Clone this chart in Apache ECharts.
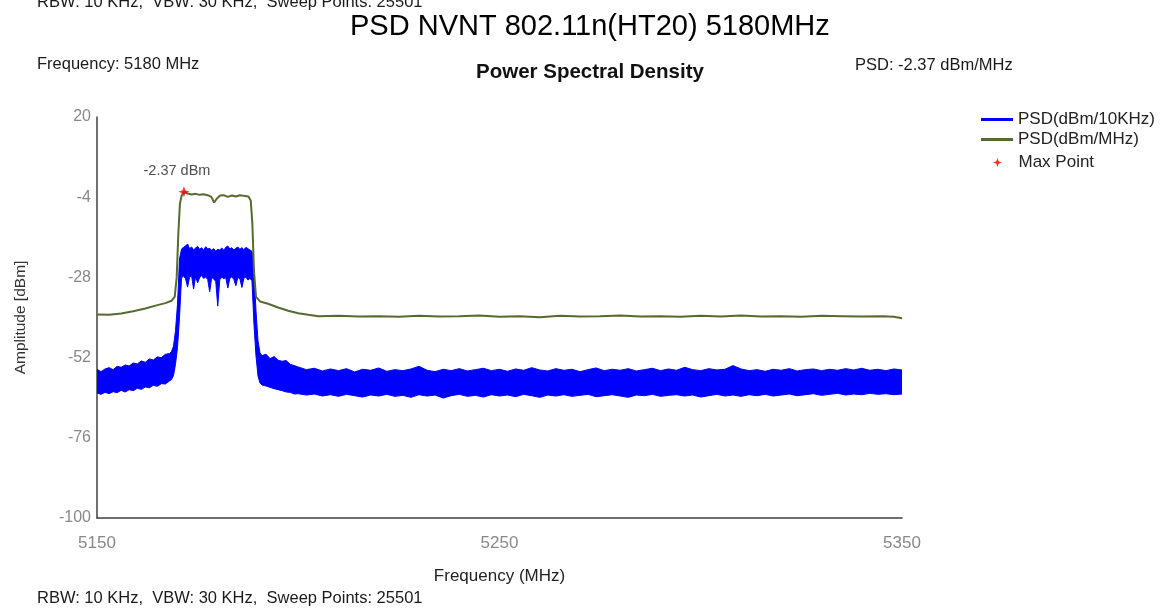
<!DOCTYPE html>
<html>
<head>
<meta charset="utf-8">
<title>PSD NVNT 802.11n(HT20) 5180MHz</title>
<script src="https://cdn.jsdelivr.net/npm/echarts@6/dist/echarts.min.js"></script>
<style>
  html, body { margin: 0; padding: 0; background: #fff; }
  #chart { width: 1169px; height: 608px; }
</style>
</head>
<body>
<div id="chart"></div>
<script>
// axis ticks
const xTicks = [5150, 5250, 5350]
const yTicks = [-100, -76, -52, -28, -4, 20]

// PSD(dBm/10KHz): upper / lower edge of the noisy trace
const blueFreq = [
  5150, 5151, 5152, 5153, 5154, 5155, 5156, 5157, 5158, 5159,
  5160, 5161, 5162, 5163, 5164, 5165, 5166, 5167, 5168,
  5168.5, 5169, 5169.5, 5170, 5170.5,
  5171, 5171.5, 5172, 5172.5, 5173, 5173.5, 5174, 5174.5, 5175, 5175.5,
  5176, 5176.5, 5177, 5177.5, 5178, 5178.5, 5179, 5179.5, 5180, 5180.5,
  5181, 5181.5, 5182, 5182.5, 5183, 5183.5, 5184, 5184.5, 5185, 5185.5,
  5186, 5186.5, 5187, 5187.5, 5188, 5188.5,
  5189, 5189.5, 5190, 5190.5,
  5191, 5192, 5193, 5194, 5195, 5196, 5197, 5198, 5199,
  5200, 5202, 5204, 5206, 5208, 5210, 5212, 5214, 5216, 5218,
  5220, 5222, 5224, 5226, 5228, 5230, 5232, 5234, 5236, 5238,
  5240, 5242, 5244, 5246, 5248, 5250, 5252, 5254, 5256, 5258,
  5260, 5262, 5264, 5266, 5268, 5270, 5272, 5274, 5276, 5278,
  5280, 5282, 5284, 5286, 5288, 5290, 5292, 5294, 5296, 5298,
  5300, 5302, 5304, 5306, 5308, 5310, 5312, 5314, 5316, 5318,
  5320, 5322, 5324, 5326, 5328, 5330, 5332, 5334, 5336, 5338,
  5340, 5342, 5344, 5346, 5348, 5350
]
const blueTop = [
  -55.5, -56.2, -55.4, -55.0, -55.6, -54.6, -54.9, -54.2, -54.5, -53.6,
  -53.9, -53.0, -53.4, -52.4, -52.7, -51.8, -52.0, -51.0, -50.8,
  -50.2, -48.6, -44.0, -36.0, -22.5,
  -19.5, -19.0, -18.6, -18.0, -19.4, -18.9, -19.8, -19.2, -18.7, -19.6,
  -19.1, -19.9, -18.8, -19.5, -19.3, -19.9, -19.4, -20.1, -19.6, -19.8,
  -19.2, -19.9, -19.0, -18.6, -19.5, -19.1, -19.8, -19.3, -18.9, -19.6,
  -19.1, -19.7, -19.0, -19.4, -19.8, -20.2,
  -26.0, -38.0, -47.0, -50.6,
  -51.4, -51.0, -52.3, -51.7, -52.8, -53.1, -52.9, -54.0, -54.4,
  -54.8, -55.6, -55.2, -56.0, -55.4, -55.9, -55.3, -56.3, -55.5, -55.8,
  -55.1, -56.1, -55.6, -55.9, -55.4, -54.6, -55.8, -56.2, -55.5, -55.9,
  -55.3, -56.0, -55.6, -55.2, -55.9, -55.5, -56.1, -55.4, -55.8, -55.0,
  -55.7, -56.0, -55.3, -55.8, -55.5, -56.2, -55.6, -55.1, -55.9, -55.5,
  -55.8, -55.3, -56.0, -55.6, -55.2, -55.9, -55.4, -55.8, -54.9, -55.6,
  -55.9, -55.3, -55.7, -55.5, -54.4, -55.4, -55.9, -55.6, -56.1, -55.5,
  -55.8, -55.3, -56.0, -55.6, -55.4, -55.9, -55.5, -55.8, -55.3, -55.7,
  -55.2, -55.8, -55.5, -55.9, -55.4, -55.7
]
const blueBottom = [
  -62.6, -63.0, -62.4, -62.8, -62.2, -62.5, -61.8, -62.3, -61.6, -61.9,
  -61.2, -61.5, -60.8, -61.0, -60.3, -60.6, -59.8, -59.9, -59.0,
  -58.6, -57.4, -54.0, -49.0, -40.0,
  -28.2, -27.6, -28.4, -30.9, -28.0, -27.5, -31.5, -27.8, -29.6, -28.1,
  -27.4, -28.3, -27.9, -28.6, -32.3, -28.0, -28.5, -29.2, -36.6, -28.7,
  -27.9, -28.4, -28.1, -31.2, -28.3, -27.8, -28.6, -30.5, -28.0, -28.4,
  -31.0, -28.2, -27.9, -28.8, -28.3, -29.0,
  -42.0, -51.5, -57.5, -59.6,
  -60.2, -60.5, -60.9, -61.3, -61.6, -61.9, -62.3, -62.4, -62.9,
  -62.8, -63.2, -62.9, -63.5, -63.1, -63.6, -63.0, -63.4, -63.8, -63.2,
  -63.5, -63.0, -63.6, -63.3, -63.9, -63.1, -63.5, -63.2, -64.1, -63.4,
  -63.0, -63.6, -63.3, -63.8, -63.1, -63.5, -63.2, -63.7, -63.0, -63.4,
  -63.9, -63.2, -63.5, -63.1, -63.6, -63.3, -63.0, -63.7, -63.4, -63.1,
  -63.5, -63.9, -63.2, -63.4, -63.0, -63.6, -63.3, -63.1, -63.5, -63.2,
  -63.8, -63.4, -63.0, -63.5, -63.2, -63.6, -63.1, -63.4, -63.0, -63.5,
  -63.2, -62.9, -63.4, -63.1, -62.8, -63.3, -63.0, -62.7, -63.2, -62.9,
  -63.1, -62.7, -63.0, -62.8, -63.1, -62.9
]

// PSD(dBm/MHz)
const greenFreq = [
  5150, 5153, 5156, 5159, 5162, 5165, 5167, 5168.5, 5169.3, 5169.8,
  5170.2, 5170.6, 5171, 5171.6, 5172.5, 5173.5, 5174.5, 5175.5, 5176.5, 5177.5,
  5178.4, 5179.1, 5179.8, 5180.6, 5181.5, 5182.5, 5183.5, 5184.5, 5185.5, 5186.5,
  5187.6, 5188.2, 5188.6, 5189, 5189.5, 5190.5, 5192.5, 5195, 5197.5, 5200,
  5202.5, 5205, 5210, 5215, 5220, 5225, 5230, 5235, 5240, 5245,
  5250, 5255, 5260, 5265, 5270, 5275, 5280, 5285, 5290, 5295,
  5300, 5305, 5310, 5315, 5320, 5325, 5330, 5335, 5340, 5345,
  5348, 5350
]
const greenPsd = [
  -39.1, -39.2, -38.8, -38.1, -37.3, -36.3, -35.7, -35.0, -33.8, -28.0,
  -15.0, -6.0, -3.6, -2.37, -2.9, -3.2, -3.0, -3.3, -3.1, -3.4,
  -3.9, -5.6, -4.4, -3.5, -3.4, -3.9, -3.5, -3.8, -3.4, -3.6,
  -3.8, -5.0, -12.0, -26.0, -33.8, -35.2, -35.9, -37.0, -38.0, -38.7,
  -39.2, -39.6, -39.5, -39.7, -39.6, -39.8, -39.5, -39.7, -39.6, -39.4,
  -39.8, -39.6, -39.9, -39.5, -39.7, -39.6, -39.4, -39.7, -39.6, -39.8,
  -39.5, -39.7, -39.4, -39.7, -39.6, -39.8, -39.5, -39.6, -39.7, -39.6,
  -39.8, -40.2
]

const maxPoint = [5171.6, -2.37]

const BLUE = 'PSD(dBm/10KHz)'
const GREEN = 'PSD(dBm/MHz)'
const MAXP = 'Max Point'
const FONT = "'Liberation Sans', Arial, sans-serif"
const STAR = 'path://M0,-10 L2.6,-2.6 L10,0 L2.6,2.6 L0,10 L-2.6,2.6 L-10,0 L-2.6,-2.6 Z'

// axes are shifted so ticks start on a multiple of the interval
const xBase = xTicks[0]
const yBase = yTicks[0]
const px = f => f - xBase
const py = v => v - yBase

const bandData = blueFreq.map((f, i) => [px(f), py(blueTop[i]), py(blueBottom[i])])

// one filled polygon between the upper and lower edge of the 10 KHz trace
function renderBand(params, api) {
  if (params.dataIndex !== 0) return
  const upper = bandData.map(d => api.coord([d[0], d[1]]))
  const lower = bandData.map(d => api.coord([d[0], d[2]])).reverse()
  return {
    type: 'polygon',
    shape: { points: upper.concat(lower) },
    style: { fill: '#0000ff', stroke: '#0000ff', lineWidth: 1 }
  }
}

const chart = echarts.init(document.getElementById('chart'))

const small = { fontFamily: FONT, fontSize: 16.5, fill: '#1a1a1a' }

chart.setOption({
  animation: false,
  backgroundColor: '#fff',
  title: [{
    text: 'PSD NVNT 802.11n(HT20) 5180MHz',
    left: 350,
    top: 12,
    padding: 0,
    textStyle: { fontFamily: FONT, fontSize: 29, fontWeight: 'normal', color: '#000' }
  }, {
    text: 'Power Spectral Density',
    left: 476,
    top: 62,
    padding: 0,
    textStyle: { fontFamily: FONT, fontSize: 20.5, fontWeight: 'bold', color: '#111' }
  }],
  graphic: [
    { type: 'text', x: 37, y: 2, style: Object.assign({ text: 'RBW: 10 KHz,  VBW: 30 KHz,  Sweep Points: 25501', verticalAlign: 'middle' }, small) },
    { type: 'text', x: 37, y: 64, style: Object.assign({ text: 'Frequency: 5180 MHz', verticalAlign: 'middle' }, small) },
    { type: 'text', x: 855, y: 65, style: Object.assign({ text: 'PSD: ' + maxPoint[1] + ' dBm/MHz', verticalAlign: 'middle' }, small) },
    { type: 'text', x: 37, y: 598, style: Object.assign({ text: 'RBW: 10 KHz,  VBW: 30 KHz,  Sweep Points: 25501', verticalAlign: 'middle' }, small) }
  ],
  legend: [{
    data: [{ name: BLUE, icon: 'rect' }, { name: GREEN, icon: 'rect' }],
    orient: 'vertical',
    left: 981,
    top: 111,
    padding: 0,
    itemWidth: 32,
    itemHeight: 3,
    itemGap: 3,
    selectedMode: false,
    textStyle: { fontFamily: FONT, fontSize: 17, lineHeight: 17, color: '#222' }
  }, {
    data: [{ name: MAXP, icon: STAR }],
    orient: 'vertical',
    left: 993,
    top: 154,
    padding: 0,
    itemWidth: 32,
    itemHeight: 9,
    selectedMode: false,
    textStyle: { fontFamily: FONT, fontSize: 17, lineHeight: 17, color: '#222' }
  }],
  grid: {
    left: 97,
    right: 267,
    top: 117,
    bottom: 90,
    containLabel: false
  },
  xAxis: {
    type: 'value',
    min: px(xTicks[0]),
    max: px(xTicks[xTicks.length - 1]),
    interval: xTicks[1] - xTicks[0],
    name: 'Frequency (MHz)',
    nameLocation: 'middle',
    nameGap: 50,
    nameTextStyle: { fontFamily: FONT, fontSize: 17, color: '#222' },
    axisLine: { lineStyle: { color: '#404040', width: 1.5 } },
    axisTick: { show: false },
    splitLine: { show: false },
    axisLabel: {
      margin: 17,
      fontFamily: FONT,
      fontSize: 17,
      color: '#888',
      formatter: v => String(v + xBase)
    }
  },
  yAxis: {
    type: 'value',
    min: py(yTicks[0]),
    max: py(yTicks[yTicks.length - 1]),
    interval: yTicks[1] - yTicks[0],
    name: 'Amplitude [dBm]',
    nameLocation: 'middle',
    nameRotate: 90,
    nameGap: 68,
    nameTextStyle: { fontFamily: FONT, fontSize: 15.5, color: '#333' },
    axisLine: { show: true, lineStyle: { color: '#404040', width: 1.5 } },
    axisTick: { show: false },
    splitLine: { show: false },
    axisLabel: {
      margin: 6,
      fontFamily: FONT,
      fontSize: 16,
      color: '#888',
      formatter: v => String(v + yBase)
    }
  },
  series: [
    {
      name: BLUE,
      type: 'custom',
      color: '#0000ff',
      itemStyle: { color: '#0000ff' },
      clip: true,
      renderItem: renderBand,
      data: bandData
    },
    {
      name: GREEN,
      type: 'line',
      symbol: 'none',
      color: '#556b2f',
      lineStyle: { color: '#556b2f', width: 2 },
      data: greenFreq.map((f, i) => [px(f), py(greenPsd[i])])
    },
    {
      name: MAXP,
      type: 'scatter',
      symbol: STAR,
      symbolSize: 11,
      color: '#ff0000',
      z: 5,
      label: {
        show: true,
        position: 'top',
        offset: [-7, -3],
        fontFamily: FONT,
        fontSize: 14.5,
        color: '#222',
        formatter: () => maxPoint[1] + ' dBm'
      },
      data: [[px(maxPoint[0]), py(maxPoint[1])]]
    }
  ]
})
</script>
</body>
</html>
